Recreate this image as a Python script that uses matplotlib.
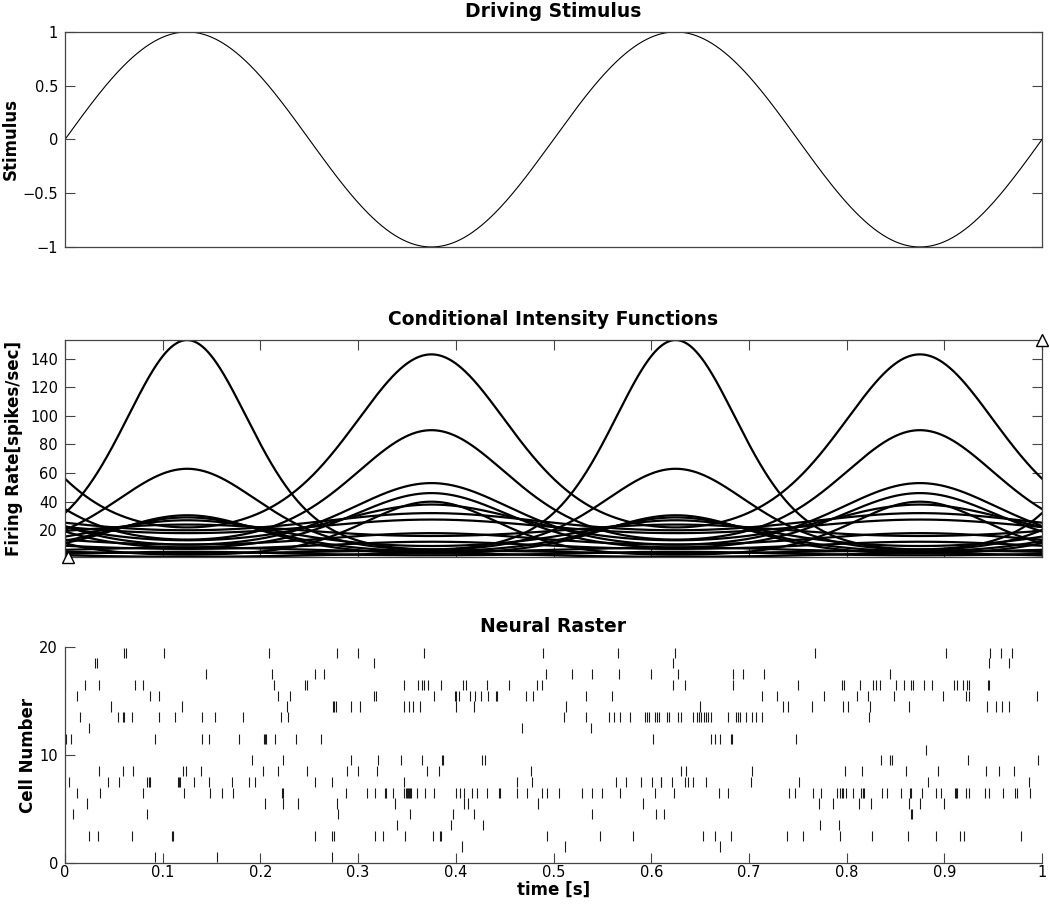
import numpy as np
import matplotlib
matplotlib.use("Agg")
import matplotlib.pyplot as plt

plt.rcParams['font.family'] = ['DejaVu Sans']

# driving stimulus: 2 Hz sine of unit amplitude over 1 s
stim_freq_hz = 2.0
stim_amp = 1.0

# conditional intensity per cell: rate at stimulus peak / trough,
# sign +1 -> maximal at stimulus peak, -1 -> maximal at stimulus trough
cif_peak   = [153, 63, 30.5, 29, 27, 24, 143, 90, 53, 46, 40, 38, 32, 27.5, 18, 12, 8, 6, 5, 4]
cif_trough = [6.7, 6.5, 4.0, 5.5, 9, 16, 22, 13.5, 10, 8, 3, 13, 20, 18, 10, 7, 5, 4, 2.5, 1.5]
cif_sign   = [1, 1, 1, 1, 1, 1, -1, -1, -1, -1, -1, -1, -1, -1, -1, -1, 1, -1, 1, -1]

# spike times [s] per cell (read from raster)
cell01 = [0.0922, 0.1553, 0.2733]
cell02 = [0.4063, 0.5114, 0.6708]
cell03 = [0.0246, 0.0334, 0.0683, 0.1092, 0.1102, 0.2559, 0.2730, 0.2757, 0.3173, 0.3251,
          0.3483, 0.3767, 0.3842, 0.3852, 0.4934, 0.5476, 0.5814, 0.6527, 0.6656, 0.6817,
          0.7387, 0.7554, 0.7933, 0.8263, 0.8632, 0.8912, 0.9164, 0.9198, 0.9782]
cell04 = [0.3398, 0.3951, 0.4278, 0.7724, 0.7919]
cell05 = [0.0085, 0.0840, 0.2791, 0.3535, 0.3968, 0.4183, 0.5394, 0.6053, 0.6128, 0.8656, 0.8673]
cell06 = [0.0229, 0.2051, 0.2235, 0.2389, 0.2781, 0.3374, 0.4087, 0.4121, 0.4845, 0.5916,
          0.7717, 0.7864, 0.8130, 0.8250, 0.8642, 0.8751, 0.8997]
cell07 = [0.0123, 0.0358, 0.0795, 0.1215, 0.1485, 0.1608, 0.1724, 0.2222, 0.2229,
          0.2876, 0.3091, 0.3176, 0.3272, 0.3282, 0.3357, 0.3473, 0.3490, 0.3501, 0.3511,
          0.3521, 0.3531, 0.3541, 0.3606, 0.3681, 0.3777, 0.4002, 0.4047, 0.4087, 0.4166,
          0.4217, 0.4316, 0.4442, 0.4453, 0.4630, 0.4725, 0.4882, 0.4930, 0.5056,
          0.5292, 0.5394, 0.5497, 0.5684, 0.6039, 0.6234, 0.6694, 0.6790, 0.7407, 0.7475,
          0.7653, 0.7735, 0.7902, 0.7933, 0.7950, 0.7966, 0.7997, 0.8062, 0.8147, 0.8164,
          0.8182, 0.8362, 0.8413, 0.8553, 0.8652, 0.8662, 0.8768, 0.8918, 0.8963, 0.9110,
          0.9120, 0.9130, 0.9219, 0.9256, 0.9420, 0.9457, 0.9601, 0.9724, 0.9741, 0.9881]
cell08 = [0.0038, 0.0444, 0.0553, 0.0836, 0.0857, 0.0870, 0.1160, 0.1171, 0.1181, 0.1324,
          0.1474, 0.1706, 0.1881, 0.1942, 0.2559, 0.2733, 0.3466, 0.4623, 0.4780,
          0.5643, 0.5746, 0.5893, 0.6012, 0.6097, 0.6104, 0.6213, 0.6343, 0.6377, 0.6431,
          0.6561, 0.7025, 0.7510, 0.8830, 0.9870]
cell09 = [0.0345, 0.0594, 0.0693, 0.1208, 0.1242, 0.1392, 0.2031, 0.2177, 0.2481,
          0.2887, 0.2996, 0.3193, 0.3709, 0.3825, 0.4766, 0.6302, 0.6353, 0.7029,
          0.7983, 0.8161, 0.8604, 0.8935, 0.9430, 0.9556, 0.9713]
cell10 = [0.1911, 0.2232, 0.2927, 0.3207, 0.3439, 0.3651, 0.3859, 0.3869, 0.4265, 0.4296,
          0.8355, 0.8448, 0.8465, 0.9246, 0.9963]
cell11 = [0.8810]
cell12 = [0.0007, 0.0061, 0.0918, 0.1406, 0.1474, 0.1778, 0.2034, 0.2048, 0.2058, 0.2154,
          0.2369, 0.2620, 0.6015, 0.6616, 0.6653, 0.6704, 0.6820, 0.6830, 0.7478]
cell13 = [0.0242, 0.4678, 0.5384]
cell14 = [0.0150, 0.0539, 0.0597, 0.0608, 0.0689, 0.0962, 0.1126, 0.1399, 0.1539, 0.1819,
          0.2212, 0.2280, 0.5111, 0.5329, 0.5568, 0.5623, 0.5677, 0.5783, 0.5940, 0.5957,
          0.5974, 0.6042, 0.6059, 0.6076, 0.6162, 0.6179, 0.6278, 0.6302, 0.6425, 0.6472,
          0.6493, 0.6513, 0.6537, 0.6564, 0.6585, 0.6612, 0.6790, 0.6871, 0.6888, 0.6912,
          0.6970, 0.7032, 0.7073, 0.7131, 0.8233]
cell15 = [0.0471, 0.1195, 0.2276, 0.2740, 0.2757, 0.2774, 0.2927, 0.3019, 0.3473, 0.3517,
          0.3558, 0.3633, 0.3999, 0.4190, 0.5125, 0.6500, 0.7346, 0.7397, 0.7642, 0.7966,
          0.8011, 0.8243, 0.8639, 0.9438, 0.9530, 0.9588, 0.9662]
cell16 = [0.0123, 0.0870, 0.0959, 0.2177, 0.2304, 0.3163, 0.3187, 0.3774, 0.3989, 0.3999,
          0.4036, 0.4142, 0.4193, 0.4254, 0.4333, 0.4415, 0.4425, 0.4718, 0.4787, 0.5333,
          0.5599, 0.7138, 0.7291, 0.7769, 0.8110, 0.8223, 0.8489, 0.8990, 0.9219, 0.9253,
          0.9945]
cell17 = [0.0003, 0.0208, 0.0348, 0.0717, 0.0799, 0.2140, 0.2460, 0.2480, 0.3473, 0.3610,
          0.3651, 0.3675, 0.3720, 0.3845, 0.4077, 0.4101, 0.4317, 0.4545, 0.4828, 0.4886,
          0.6220, 0.6349, 0.6834, 0.7506, 0.7950, 0.7970, 0.8134, 0.8270, 0.8304, 0.8338,
          0.8502, 0.8584, 0.8656, 0.8683, 0.8792, 0.8874, 0.9102, 0.9130, 0.9195, 0.9229,
          0.9253, 0.9444, 0.9457]
cell18 = [0.1447, 0.2123, 0.2559, 0.2651, 0.4927, 0.5189, 0.5394, 0.5670, 0.6001, 0.6278,
          0.6837, 0.6940, 0.7155, 0.8448]
cell19 = [0.0307, 0.0331, 0.3163, 0.6220, 0.9457, 0.9666]
cell20 = [0.0604, 0.0621, 0.1010, 0.2090, 0.2781, 0.3003, 0.3675, 0.4896, 0.5664, 0.6240,
          0.7677, 0.9017, 0.9464, 0.9580, 0.9696]

spike_trains = [cell01, cell02, cell03, cell04, cell05, cell06, cell07, cell08, cell09, cell10,
                cell11, cell12, cell13, cell14, cell15, cell16, cell17, cell18, cell19, cell20]

time_ticks = [0, 0.1, 0.2, 0.3, 0.4, 0.5, 0.6, 0.7, 0.8, 0.9, 1]
time_labels = ['0', '0.1', '0.2', '0.3', '0.4', '0.5', '0.6', '0.7', '0.8', '0.9', '1']

t = np.linspace(0, 1, 2001)
stim = stim_amp * np.sin(2 * np.pi * stim_freq_hz * t)

fig = plt.figure(figsize=(10.5, 9.1), dpi=100)
ax1 = fig.add_axes([0.0619, 0.7286, 0.9305, 0.2363])
ax2 = fig.add_axes([0.0619, 0.3882, 0.9305, 0.2381])
ax3 = fig.add_axes([0.0619, 0.0520, 0.9305, 0.2367])

spine_col = '#444444'
for ax in (ax1, ax2, ax3):
    for s in ax.spines.values():
        s.set_color(spine_col)
        s.set_linewidth(0.9)
    ax.tick_params(direction='in', length=7, width=0.8, color=spine_col,
                   labelsize=10.5, pad=5)

title_kw = dict(fontsize=13.5, fontweight='bold', pad=11)
label_kw = dict(fontsize=12, fontweight='bold')

# Driving stimulus
ax1.plot(t, stim, color='black', linewidth=0.8)
ax1.set_xlim(0, 1)
ax1.set_ylim(-1, 1)
ax1.set_xticks([])
ax1.set_yticks([-1, -0.5, 0, 0.5, 1])
ax1.set_yticklabels(['\u22121', '\u22120.5', '0', '0.5', '1'])
ax1.tick_params(axis='y', right=True)
ax1.set_ylabel('Stimulus', **label_kw)
ax1.yaxis.set_label_coords(-0.046, 0.5)
ax1.set_title('Driving Stimulus', **title_kw)

# Conditional intensity functions
for pk, tr, sg in zip(cif_peak, cif_trough, cif_sign):
    w = (1 + sg * stim) / 2
    lam = pk ** w * tr ** (1 - w)
    ax2.plot(t, lam, color='black', linewidth=1.6)
y_lo = min(cif_trough)
y_hi = max(cif_peak)
ax2.plot([0.003], [y_lo], marker='^', markersize=9, markerfacecolor='white',
         markeredgecolor='black', clip_on=False, zorder=5)
ax2.plot([1.0], [y_hi], marker='^', markersize=9, markerfacecolor='white',
         markeredgecolor='black', clip_on=False, zorder=5)
ax2.set_xlim(0, 1)
ax2.set_ylim(y_lo, y_hi)
ax2.set_xticks(time_ticks)
ax2.set_xticklabels([])
ax2.set_yticks([20, 40, 60, 80, 100, 120, 140])
ax2.tick_params(axis='both', top=True, right=True)
ax2.set_ylabel('Firing Rate[spikes/sec]', **label_kw)
ax2.yaxis.set_label_coords(-0.0425, 0.5)
ax2.set_title('Conditional Intensity Functions', **title_kw)

# Neural raster
for k, spikes in enumerate(spike_trains, start=1):
    ax3.vlines(spikes, k - 0.97, k - 0.03, color='#1a1a1a', linewidth=0.8)
ax3.set_xlim(0, 1)
ax3.set_ylim(0, 20)
ax3.set_xticks(time_ticks)
ax3.set_xticklabels(time_labels)
ax3.tick_params(axis='x', pad=1.5)
ax3.set_yticks([0, 10, 20])
ax3.spines['top'].set_visible(False)
ax3.spines['right'].set_visible(False)
ax3.set_ylabel('Cell Number', **label_kw)
ax3.yaxis.set_label_coords(-0.0287, 0.5)
ax3.set_xlabel('time [s]', labelpad=1, **label_kw)
ax3.set_title('Neural Raster', **title_kw)

fig.savefig('out.png', dpi=100)
